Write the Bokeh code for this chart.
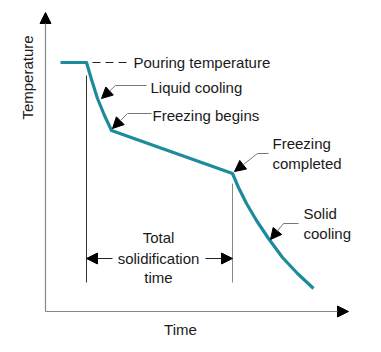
import math
from bokeh.plotting import figure
from bokeh.models import Range1d, Label, Arrow, NormalHead
from bokeh.embed import file_html
from bokeh.resources import INLINE

# Cooling curve (time, temperature) in arbitrary chart units
time = [15, 41, 46, 52, 59, 66, 187, 193, 201, 211, 223, 237, 252, 268]
temperature = [249, 249, 232, 213, 196, 181, 138, 124, 108, 91, 73, 54, 38, 23]

pour_idx = 1       # end of pouring plateau
freeze_end_idx = 6

TEAL = "#1e8b9b"
FONT = "Liberation Sans"
FS = "15px"
TXT = "#1a1a1a"

p = figure(width=381, height=352, output_backend="svg", toolbar_location=None,
           x_range=Range1d(-45, 336), y_range=Range1d(-41, 311), min_border=0)
p.axis.visible = False
p.grid.visible = False
p.outline_line_color = None
p.background_fill_color = "white"
p.border_fill_color = "white"

# axes with arrowheads
p.add_layout(Arrow(x_start=0, y_start=0, x_end=0, y_end=299, line_color="#888888", line_width=1.2,
                   end=NormalHead(size=11, fill_color="black", line_color="black")))
p.add_layout(Arrow(x_start=0, y_start=0, x_end=303, y_end=0, line_color="#888888", line_width=1.2,
                   end=NormalHead(size=11, fill_color="black", line_color="black")))

# vertical markers
t0 = time[pour_idx]
t1 = time[freeze_end_idx]
p.line([t0, t0], [236, 29], line_color="#333333", line_width=1)
p.line([t1, t1], [128, 29], line_color="#888888", line_width=1)

# cooling curve
p.line(time, temperature, line_color=TEAL, line_width=3.2, line_join="round", line_cap="butt")

# pouring temperature dashed leader
p.line([t0 + 6, t0 + 42], [249, 249], line_color="#222222", line_width=1, line_dash="8 5")

def label(x, y, text, align="left", **kw):
    p.add_layout(Label(x=x, y=y, text=text, text_font=FONT, text_font_size=FS,
                       text_color=TXT, text_align=align, text_baseline="middle", **kw))

def leader(tip, bend, end):
    p.line([bend[0], end[0]], [bend[1], end[1]], line_color="#777777", line_width=1)
    p.add_layout(Arrow(x_start=bend[0], y_start=bend[1], x_end=tip[0], y_end=tip[1],
                       line_color="#777777", line_width=1,
                       end=NormalHead(size=11, fill_color="black", line_color="black")))

label(88, 249, "Pouring temperature")

leader((56, 213), (70, 226), (101, 226))
label(105, 224, "Liquid cooling")

leader((67, 183), (82, 198), (106, 198))
label(107, 196, "Freezing begins")

leader((189, 140), (212, 158), (223, 158))
label(227, 168, "Freezing")
label(227, 148, "completed")

leader((225, 72), (238, 88), (253, 88))
label(258, 98, "Solid")
label(258, 78, "cooling")

# total solidification time
p.add_layout(Arrow(x_start=67, y_start=53, x_end=t0, y_end=53, line_color="#222222", line_width=1,
                   end=NormalHead(size=11, fill_color="black", line_color="black")))
p.add_layout(Arrow(x_start=160, y_start=53, x_end=t1, y_end=53, line_color="#222222", line_width=1,
                   end=NormalHead(size=11, fill_color="black", line_color="black")))
label(113, 74, "Total", align="center")
label(113, 53, "solidification", align="center")
label(113, 34, "time", align="center")

# axis titles
label(135, -18, "Time", align="center")
label(-18, 234, "Temperature", align="center", angle=math.pi / 2)

open("out.html", "w").write(file_html(p, INLINE))
